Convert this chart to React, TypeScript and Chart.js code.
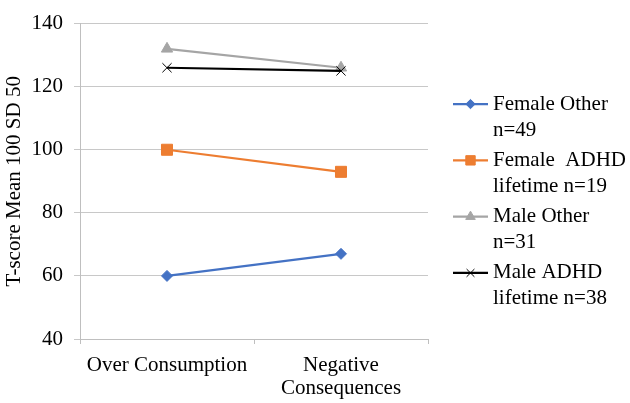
import React, { useEffect, useRef } from "react";
import { Chart, registerables } from "chart.js";
import { drawPoint } from "chart.js/helpers";

Chart.register(...registerables);

const categories: (string | string[])[] = ["Over Consumption", ["Negative", "Consequences"]];
const femaleOther = [60, 67];
const femaleADHD = [100, 93];
const maleOther = [132, 126];
const maleADHD = [126, 125];
const legendLines = [
  ["Female Other", "n=49"],
  ["Female  ADHD", "lifetime n=19"],
  ["Male Other", "n=31"],
  ["Male ADHD", "lifetime n=38"],
];
const yTicks = { min: 40, max: 140, step: 20 };
const yTitle = "T-score Mean 100 SD 50";

const FONT = "'Liberation Serif', 'Times New Roman', serif";

const legendPlugin = {
  id: "sideLegend",
  afterDraw(chart: any) {
    const ctx = chart.ctx;
    const ds = chart.data.datasets;
    const lineGap = 26;
    const itemGap = 56.3;
    const total = (ds.length - 1) * itemGap + lineGap * 2;
    const top = (chart.height - total) / 2 + 13;
    const x0 = chart.chartArea.right + 25;
    ctx.save();
    ds.forEach((d: any, i: number) => {
      const y = top + i * itemGap;
      ctx.strokeStyle = d.borderColor;
      ctx.lineWidth = d.borderWidth;
      ctx.beginPath();
      ctx.moveTo(x0, y);
      ctx.lineTo(x0 + 35, y);
      ctx.stroke();
      ctx.fillStyle = d.pointBackgroundColor;
      ctx.strokeStyle = d.pointBorderColor;
      ctx.lineWidth = d.pointBorderWidth;
      drawPoint(ctx, { pointStyle: d.pointStyle, rotation: 0, radius: d.pointRadius * 0.85, borderWidth: d.pointBorderWidth } as any, x0 + 17.5, y);
      ctx.fillStyle = "#000";
      ctx.font = `21px ${FONT}`;
      ctx.textBaseline = "middle";
      ctx.textAlign = "left";
      legendLines[i].forEach((t, j) => ctx.fillText(t, x0 + 40, y + j * lineGap));
    });
    ctx.restore();
  },
};

export default function App() {
  const ref = useRef<HTMLCanvasElement>(null);
  useEffect(() => {
    document.body.style.margin = "0";
    const mk = (label: string, data: number[], color: string, style: string, r: number, order: number) => ({
      label,
      data,
      borderColor: color,
      backgroundColor: color,
      pointBackgroundColor: color,
      pointBorderColor: color,
      pointBorderWidth: 1,
      pointStyle: style,
      pointRadius: r,
      pointHoverRadius: r,
      borderWidth: 2.2,
      tension: 0,
      order,
    });
    const chart = new Chart(ref.current!, {
      type: "line",
      data: {
        labels: categories as any,
        datasets: [
          mk("Female Other", femaleOther, "#4472C4", "rectRot", 5.5, 3),
          mk("Female ADHD", femaleADHD, "#ED7D31", "rect", 7.8, 2),
          mk("Male Other", maleOther, "#A5A5A5", "triangle", 6.5, 1),
          mk("Male ADHD", maleADHD, "#000000", "crossRot", 6.5, 0),
        ] as any,
      },
      options: {
        animation: false,
        responsive: true,
        maintainAspectRatio: false,
        layout: { padding: { left: 0, right: 202, top: 12, bottom: 0 } },
        plugins: { legend: { display: false }, tooltip: { enabled: false } },
        scales: {
          x: {
            offset: true,
            grid: { offset: true, drawOnChartArea: false, drawTicks: true, tickLength: 5, color: "#BFBFBF" },
            border: { color: "#BFBFBF" },
            ticks: { color: "#000", padding: 10, font: { family: FONT, size: 21, lineHeight: 1.1 }, maxRotation: 0 },
            afterFit: (s: any) => { s.height = 64; },
          },
          y: {
            min: yTicks.min,
            max: yTicks.max,
            grid: { color: "#C8C8C8", tickLength: 6 },
            border: { color: "#BFBFBF" },
            ticks: { stepSize: yTicks.step, color: "#000", padding: 11, font: { family: FONT, size: 21 } },
            title: { display: true, text: yTitle, color: "#000", font: { family: FONT, size: 21 }, padding: { top: 2, bottom: 0 } },
            afterFit: (s: any) => { s.width = 80; },
          },
        },
      },
      plugins: [legendPlugin],
    });
    return () => chart.destroy();
  }, []);
  return (
    <div style={{ position: "fixed", left: 0, top: 0, width: 630, height: 403 }}>
      <canvas ref={ref} />
    </div>
  );
}
